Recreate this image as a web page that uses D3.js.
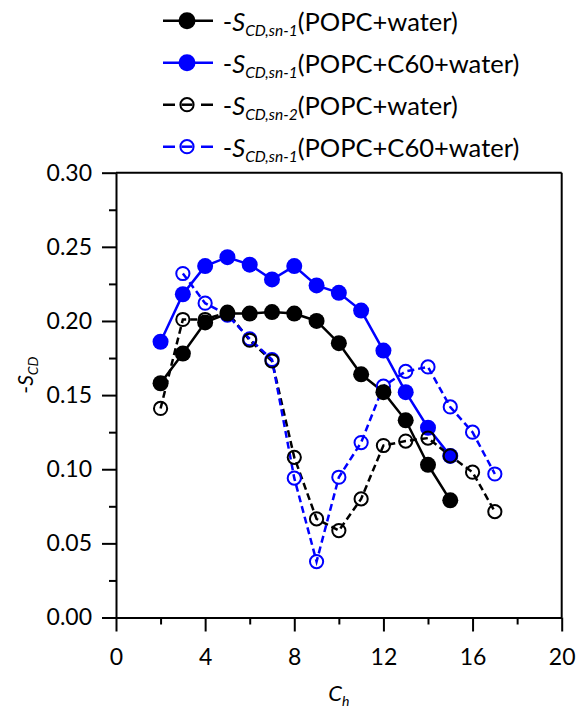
<!DOCTYPE html>
<html>
<head>
<meta charset="utf-8">
<script src="https://cdn.jsdelivr.net/npm/d3@7"></script>
<style>
  html, body { margin: 0; padding: 0; background: #fff; }
  svg { display: block; }
  text { font-family: Lato, "Open Sans", sans-serif; fill: #000; }
</style>
</head>
<body>
<svg id="chart" width="578" height="709"></svg>
<script>
// ---------- data ----------
const chFilled = [2, 3, 4, 5, 6, 7, 8, 9, 10, 11, 12, 13, 14, 15];
const sn1Popc = [0.158, 0.178, 0.199, 0.205, 0.205, 0.206, 0.205, 0.200, 0.185, 0.164, 0.152, 0.133, 0.103, 0.079];
const sn1PopcC60 = [0.186, 0.218, 0.237, 0.243, 0.238, 0.228, 0.237, 0.224, 0.219, 0.207, 0.180, 0.152, 0.128, 0.109];

const chSn2Popc = [2, 3, 4, 5, 6, 7, 8, 9, 10, 11, 12, 13, 14, 15, 16, 17];
const sn2Popc = [0.141, 0.201, 0.201, 0.206, 0.187, 0.173, 0.108, 0.0665, 0.0586, 0.080, 0.116, 0.119, 0.121, 0.109, 0.098, 0.0714];

const chSn2C60 = [3, 4, 5, 6, 7, 8, 9, 10, 11, 12, 13, 14, 15, 16, 17];
const sn2PopcC60 = [0.232, 0.212, 0.204, 0.188, 0.174, 0.094, 0.0377, 0.0946, 0.118, 0.156, 0.166, 0.169, 0.142, 0.125, 0.0968];

const xMajorTicks = [0, 4, 8, 12, 16, 20];
const xMinorTicks = [2, 6, 10, 14, 18];
const yMajorTicks = [0, 0.05, 0.10, 0.15, 0.20, 0.25, 0.30];
const yMinorTicks = [0.025, 0.075, 0.125, 0.175, 0.225, 0.275];

const legendLabels = ["(POPC+water)", "(POPC+C60+water)", "(POPC+water)", "(POPC+C60+water)"];
const legendSubs = ["CD,sn-1", "CD,sn-1", "CD,sn-2", "CD,sn-1"];

// ---------- layout ----------
const svg = d3.select("#chart");
const L = 116, R = 561.7, T = 172.7, B = 617.5;
const x = d3.scaleLinear().domain([0, 20]).range([L, R]);
const y = d3.scaleLinear().domain([0, 0.30]).range([B, T]);

const series = [
  { xs: chFilled, ys: sn1Popc, color: "#000", filled: true },
  { xs: chFilled, ys: sn1PopcC60, color: "#0000ff", filled: true },
  { xs: chSn2Popc, ys: sn2Popc, color: "#000", filled: false },
  { xs: chSn2C60, ys: sn2PopcC60, color: "#0000ff", filled: false }
];

// ---------- frame ----------
svg.append("line").attr("x1", L).attr("x2", R).attr("y1", T).attr("y2", T)
  .attr("stroke", "#000").attr("stroke-width", 2);
svg.append("line").attr("x1", R).attr("x2", R).attr("y1", T).attr("y2", B)
  .attr("stroke", "#000").attr("stroke-width", 2);

// ---------- axes ----------
const fmtY = d3.format(".2f");
const yAxis = d3.axisLeft(y).tickValues(yMajorTicks).tickSize(14).tickSizeOuter(0).tickPadding(10).tickFormat(fmtY);
const gy = svg.append("g").attr("transform", `translate(${L},0)`).call(yAxis);
const yMinor = d3.axisLeft(y).tickValues(yMinorTicks).tickSize(7).tickSizeOuter(0).tickFormat("");
const gy2 = svg.append("g").attr("transform", `translate(${L},0)`).call(yMinor);
gy2.select(".domain").remove();

const xAxis = d3.axisBottom(x).tickValues(xMajorTicks).tickSize(14).tickSizeOuter(0).tickFormat(d3.format("d"));
const gx = svg.append("g").attr("transform", `translate(0,${B})`).call(xAxis);
gx.selectAll(".tick text").attr("y", 47.5).attr("dy", 0);
const xMinor = d3.axisBottom(x).tickValues(xMinorTicks).tickSize(7).tickSizeOuter(0).tickFormat("");
const gx2 = svg.append("g").attr("transform", `translate(0,${B})`).call(xMinor);
gx2.select(".domain").remove();

svg.selectAll(".domain").attr("stroke", "#000").attr("stroke-width", 2);
svg.selectAll(".tick line").attr("stroke", "#000").attr("stroke-width", 2);
svg.selectAll(".tick text").attr("font-family", "Lato, sans-serif").attr("font-size", 23).attr("fill", "#000");

// ---------- axis titles ----------
const xt = svg.append("text").attr("x", x(10)).attr("y", 700.5).attr("text-anchor", "middle").attr("font-size", 22);
xt.append("tspan").attr("font-style", "italic").text("C");
xt.append("tspan").attr("font-style", "italic").attr("font-size", 14).attr("dy", 5).text("h");

const yt = svg.append("text").attr("transform", `translate(33,${(T + B) / 2 - 20}) rotate(-90)`)
  .attr("text-anchor", "middle").attr("font-size", 21);
yt.append("tspan").text("-");
yt.append("tspan").attr("font-style", "italic").text("S");
yt.append("tspan").attr("font-style", "italic").attr("font-size", 14).attr("dy", 5).text("CD");

// ---------- lines ----------
const lineGen = (s) => d3.line().x((d, i) => x(s.xs[i])).y(d => y(d))(s.ys);
series.forEach(s => {
  svg.append("path").attr("d", lineGen(s)).attr("fill", "none")
    .attr("stroke", s.color).attr("stroke-width", 2.5)
    .attr("stroke-dasharray", s.filled ? null : "7,4");
});

// ---------- markers ----------
const drawMarkers = (s) => {
  svg.append("g").selectAll("circle").data(s.ys).join("circle")
    .attr("cx", (d, i) => x(s.xs[i])).attr("cy", d => y(d))
    .attr("r", s.filled ? 8 : 6.6)
    .attr("fill", s.filled ? s.color : "none")
    .attr("stroke", s.color).attr("stroke-width", s.filled ? 0 : 2);
};
drawMarkers(series[3]);
drawMarkers(series[0]);
drawMarkers(series[1]);
drawMarkers(series[2]);

// ---------- legend ----------
const legY0 = 20.7, legDY = 42;
series.forEach((s, i) => {
  const cy = legY0 + i * legDY;
  svg.append("line").attr("x1", 163).attr("x2", 213).attr("y1", cy).attr("y2", cy)
    .attr("stroke", s.color).attr("stroke-width", 2.5)
    .attr("stroke-dasharray", s.filled ? null : "12,26");
  svg.append("circle").attr("cx", 187).attr("cy", cy).attr("r", s.filled ? 8.5 : 6.6)
    .attr("fill", s.filled ? s.color : "none")
    .attr("stroke", s.color).attr("stroke-width", s.filled ? 0 : 2);
  if (!s.filled) {
    svg.append("line").attr("x1", 181.5).attr("x2", 192.5).attr("y1", cy).attr("y2", cy)
      .attr("stroke", s.color).attr("stroke-width", 2.5);
  }
  const t = svg.append("text").attr("x", 222.7).attr("y", cy + 10).attr("font-size", 25.5);
  t.append("tspan").text("-");
  t.append("tspan").attr("font-style", "italic").text("S");
  t.append("tspan").attr("font-style", "italic").attr("font-size", 15.5).attr("dy", 5).text(legendSubs[i]);
  t.append("tspan").attr("dy", -5).text(legendLabels[i]);
});
</script>
</body>
</html>
